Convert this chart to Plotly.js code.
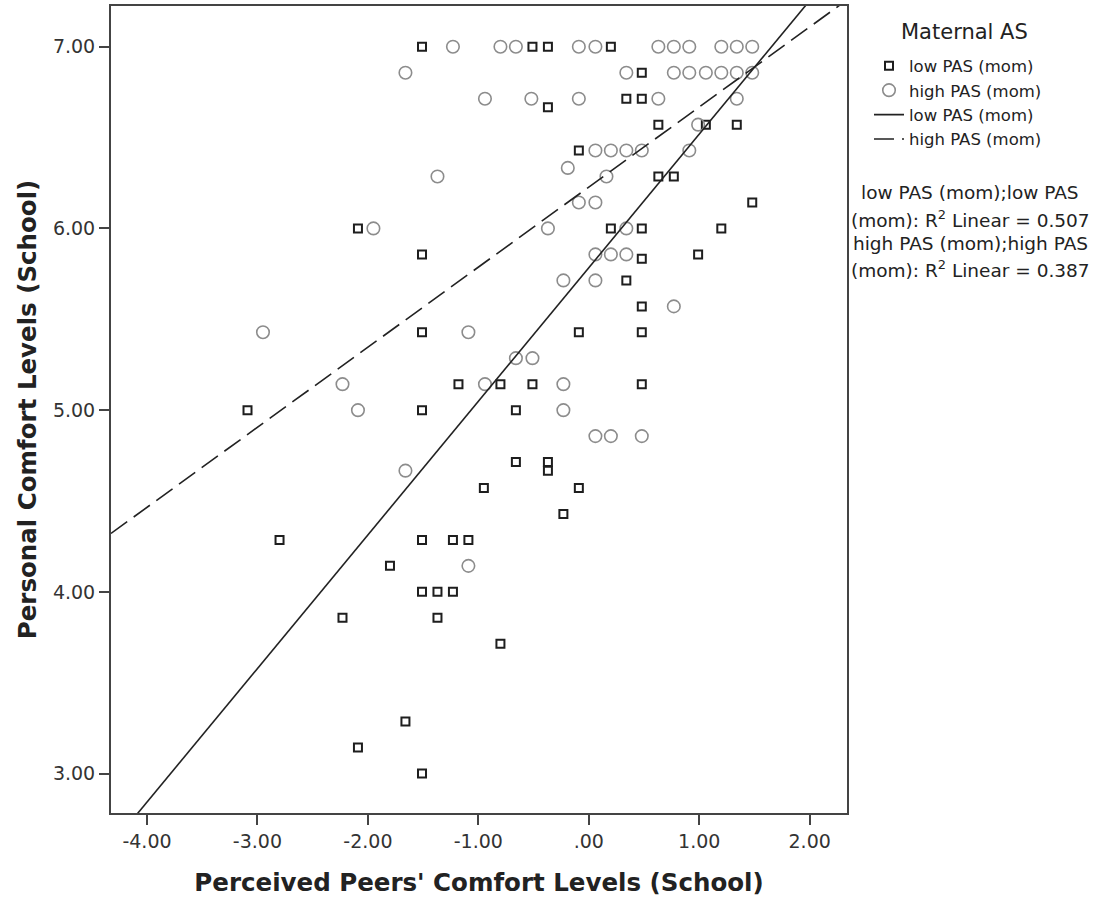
<!DOCTYPE html>
<html>
<head>
<meta charset="utf-8">
<script src="https://cdn.plot.ly/plotly-3.0.1.min.js"></script>
<style>
  html, body { margin: 0; padding: 0; background: #ffffff; }
  #chart { width: 1099px; height: 897px; }
</style>
</head>
<body>
<div id="chart"></div>
<script>
// ---- Data ----
const seriesNames = ['low PAS (mom)', 'high PAS (mom)'];
const legendTitle = 'Maternal AS';

// low PAS (mom) — squares
const lowX = [
  -1.51, -0.51, -0.37, 0.20,
  0.48,
  -0.37, 0.34, 0.48,
  0.63, 1.06, 1.34,
  -0.09,
  0.63, 0.77,
  1.48,
  -2.09, 0.20, 0.48, 1.20,
  -1.51, 0.48, 0.99,
  0.34,
  0.48,
  -1.51, -0.09, 0.48,
  -1.18, -0.80, -0.51, 0.48,
  -3.09, -1.51, -0.66,
  -0.66, -0.37, -0.37,
  -0.95, -0.09,
  -0.23,
  -2.80, -1.51, -1.23, -1.09,
  -1.80,
  -1.51, -1.37, -1.23,
  -2.23, -1.37,
  -0.80,
  -1.66,
  -2.09,
  -1.51
];
const lowY = [
  7.000, 7.000, 7.000, 7.000,
  6.857,
  6.667, 6.714, 6.714,
  6.571, 6.571, 6.571,
  6.429,
  6.286, 6.286,
  6.143,
  6.000, 6.000, 6.000, 6.000,
  5.857, 5.833, 5.857,
  5.714,
  5.571,
  5.429, 5.429, 5.429,
  5.143, 5.143, 5.143, 5.143,
  5.000, 5.000, 5.000,
  4.714, 4.714, 4.667,
  4.571, 4.571,
  4.429,
  4.286, 4.286, 4.286, 4.286,
  4.143,
  4.000, 4.000, 4.000,
  3.857, 3.857,
  3.714,
  3.286,
  3.143,
  3.000
];

// high PAS (mom) — circles
const highX = [
  -1.23, -0.80, -0.66, -0.09, 0.06, 0.63, 0.77, 0.91, 1.20, 1.34, 1.48,
  -1.66, 0.34, 0.77, 0.91, 1.06, 1.20, 1.34, 1.48,
  -0.94, -0.52, -0.09, 0.63, 1.34,
  0.99,
  0.06, 0.20, 0.34, 0.48, 0.91,
  -0.19,
  -1.37, 0.16,
  -0.09, 0.06,
  -1.95, -0.37, 0.34,
  0.06, 0.20, 0.34,
  -0.23, 0.06,
  0.77,
  -2.95, -1.09,
  -0.66, -0.51,
  -2.23, -0.94, -0.23,
  -2.09, -0.23,
  0.06, 0.20, 0.48,
  -1.66,
  -1.09
];
const highY = [
  7.000, 7.000, 7.000, 7.000, 7.000, 7.000, 7.000, 7.000, 7.000, 7.000, 7.000,
  6.857, 6.857, 6.857, 6.857, 6.857, 6.857, 6.857, 6.857,
  6.714, 6.714, 6.714, 6.714, 6.714,
  6.571,
  6.429, 6.429, 6.429, 6.429, 6.429,
  6.333,
  6.286, 6.286,
  6.143, 6.143,
  6.000, 6.000, 6.000,
  5.857, 5.857, 5.857,
  5.714, 5.714,
  5.571,
  5.429, 5.429,
  5.286, 5.286,
  5.143, 5.143, 5.143,
  5.000, 5.000,
  4.857, 4.857, 4.857,
  4.667,
  4.143
];

// Linear fit lines (intercept, slope) and R² as shown
const fitIntercepts = [5.7835, 6.2275];
const fitSlopes = [0.7351, 0.4406];
const fitR2 = ['0.507', '0.387'];

// Axis ticks
const xTickVals = [-4, -3, -2, -1, 0, 1, 2];
const xTickText = ['-4.00', '-3.00', '-2.00', '-1.00', '.00', '1.00', '2.00'];
const yTickVals = [3, 4, 5, 6, 7];
const yTickText = ['3.00', '4.00', '5.00', '6.00', '7.00'];

// ---- Layout constants ----
const xRange = [-4.326, 2.338];
const yRange = [2.783, 7.224];
const FONT = 'DejaVu Sans, Verdana, sans-serif';
const TXT = '#222222';
const FRAME = '#444444';

function fitLine(i) {
  const xs = [xRange[0], xRange[1]];
  const ys = xs.map(x => fitIntercepts[i] + fitSlopes[i] * x);
  return { xs, ys };
}
const lowFit = fitLine(0);
const highFit = fitLine(1);

const traces = [
  {
    type: 'scatter', mode: 'markers', name: seriesNames[0],
    x: lowX, y: lowY,
    marker: { symbol: 'square-open', size: 8, color: '#1e1e1e', line: { width: 2, color: '#1e1e1e' } },
    cliponaxis: true
  },
  {
    type: 'scatter', mode: 'markers', name: seriesNames[1],
    x: highX, y: highY,
    marker: { symbol: 'circle-open', size: 12.5, color: '#8c8c8c', line: { width: 1.6, color: '#8c8c8c' } },
    cliponaxis: true
  },
  {
    type: 'scatter', mode: 'lines', name: seriesNames[0],
    x: lowFit.xs, y: lowFit.ys,
    line: { color: '#222222', width: 1.6 }
  },
  {
    type: 'scatter', mode: 'lines', name: seriesNames[1],
    x: highFit.xs, y: highFit.ys,
    line: { color: '#222222', width: 1.6, dash: '20px,8px' }
  }
];

const plotLeft = 111, plotRight = 847, plotTop = 6, plotBottom = 813.5;
const W = 1099, H = 897;
const pw = plotRight - plotLeft, ph = plotBottom - plotTop;
const px2paperX = p => (p - plotLeft) / pw;
const px2paperY = p => 1 - (p - plotTop) / ph;

const r2Lines = [
  seriesNames[0] + ';low PAS',
  '(mom): R<sup>2</sup> Linear = ' + fitR2[0],
  seriesNames[1] + ';high PAS',
  '(mom): R<sup>2</sup> Linear = ' + fitR2[1]
];
const r2Ypx = [193, 219, 244, 269];

const annotations = r2Lines.map((t, i) => ({
  xref: 'paper', yref: 'paper',
  x: px2paperX(970), y: px2paperY(r2Ypx[i]),
  xanchor: 'center', yanchor: 'middle',
  text: t, showarrow: false,
  font: { family: FONT, size: 18.5, color: TXT }
}));
annotations.push({
  xref: 'paper', yref: 'paper',
  x: px2paperX(964), y: px2paperY(32),
  xanchor: 'center', yanchor: 'middle',
  text: legendTitle, showarrow: false,
  font: { family: FONT, size: 21, color: TXT }
});

const layout = {
  width: W, height: H,
  paper_bgcolor: '#ffffff', plot_bgcolor: '#ffffff',
  margin: { l: plotLeft, r: W - plotRight, t: plotTop, b: H - plotBottom, autoexpand: false },
  font: { family: FONT, color: TXT },
  showlegend: true,
  legend: {
    x: px2paperX(869), y: px2paperY(48.5),
    xanchor: 'left', yanchor: 'top',
    bgcolor: 'rgba(0,0,0,0)',
    font: { family: FONT, size: 16.5, color: TXT },
    tracegroupgap: 0,
    itemwidth: 30
  },
  xaxis: {
    range: xRange, autorange: false,
    tickmode: 'array', tickvals: xTickVals, ticktext: xTickText,
    ticks: 'outside', ticklen: 10, tickwidth: 2, tickcolor: FRAME,
    tickfont: { family: FONT, size: 19, color: '#333333' },
    showline: true, linecolor: FRAME, linewidth: 2, mirror: true,
    showgrid: false, zeroline: false,
    automargin: true,
    title: { text: "Perceived Peers' Comfort Levels (School)", font: { family: FONT, size: 24.5, color: TXT, weight: 'bold' }, standoff: 23 }
  },
  yaxis: {
    range: yRange, autorange: false,
    tickmode: 'array', tickvals: yTickVals, ticktext: yTickText,
    ticks: 'outside', ticklen: 10, tickwidth: 2, tickcolor: FRAME,
    tickfont: { family: FONT, size: 19, color: '#333333' },
    showline: true, linecolor: FRAME, linewidth: 2, mirror: true,
    showgrid: false, zeroline: false,
    automargin: true,
    title: { text: 'Personal Comfort Levels (School)', font: { family: FONT, size: 24.5, color: TXT, weight: 'bold' }, standoff: 9 }
  },
  annotations: annotations
};

Plotly.newPlot('chart', traces, layout, { displayModeBar: false, staticPlot: true });
</script>
</body>
</html>
